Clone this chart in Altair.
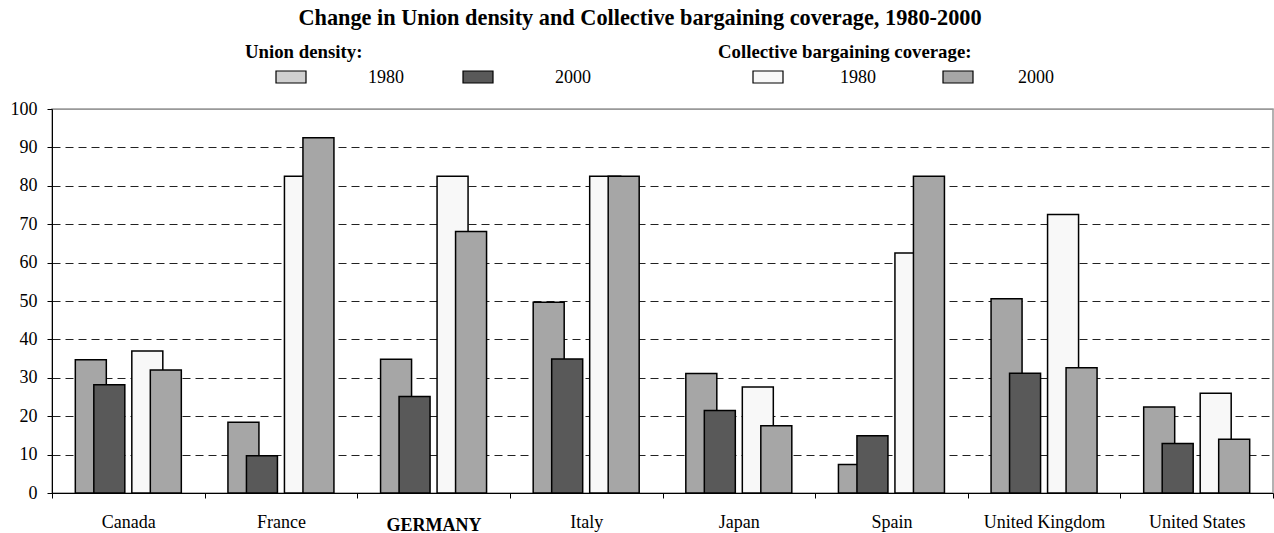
import altair as alt
import pandas as pd

# ---------------- data ----------------
countries = ["Canada", "France", "GERMANY", "Italy", "Japan", "Spain",
             "United Kingdom", "United States"]
ud_1980 = [34.7, 18.4, 34.8, 49.7, 31.1, 7.4, 50.6, 22.4]
ud_2000 = [28.2, 9.7, 25.1, 34.9, 21.5, 14.9, 31.2, 12.9]
cbc_1980 = [37.0, 82.5, 82.5, 82.5, 27.6, 62.5, 72.5, 26.0]
cbc_2000 = [32.0, 92.5, 68.1, 82.5, 17.5, 82.5, 32.6, 14.0]

series_keys = ["ud1980", "ud2000", "cbc1980", "cbc2000"]
series_values = [ud_1980, ud_2000, cbc_1980, cbc_2000]
bar_fills = ["#a6a6a6", "#595959", "#f8f8f8", "#a6a6a6"]
legend_fills = ["#d0d0d0", "#595959", "#f8f8f8", "#a6a6a6"]
legend_labels = ["1980", "2000", "1980", "2000"]
group_titles = ["Union density:", "Collective bargaining coverage:"]
title_text = "Change in Union density and Collective bargaining coverage, 1980-2000"
y_ticks = list(range(0, 101, 10))

# ---------------- layout ----------------
FONT = "Liberation Serif"
W, H = 1221, 384
PAD_L, PAD_T = 52, 109
bar_offsets = [-37.5, -19, 19, 37.5]
BAR_W = 31

rows = []
for key, vals in zip(series_keys, series_values):
    for c, v in zip(countries, vals):
        rows.append({"country": c, "series": key, "value": v})
df = pd.DataFrame(rows)

x_enc = alt.X(
    "country:N", sort=countries,
    scale=alt.Scale(domain=countries, paddingInner=0, paddingOuter=0),
    axis=alt.Axis(
        title=None, labelFont=FONT, labelFontSize=18, labelColor="black",
        labelAngle=0, domainColor="black", domainWidth=1, tickColor="black",
        tickSize=5, tickBand="extent", grid=False,
        labelPadding={"condition": {"test": "datum.value === 'GERMANY'", "value": 18},
                      "value": 15},
        labelFontWeight={"condition": {"test": "datum.value === 'GERMANY'", "value": "bold"},
                         "value": "normal"},
    ),
)
y_enc = alt.Y(
    "value:Q",
    scale=alt.Scale(domain=[0, 100], nice=False, zero=True),
    axis=alt.Axis(
        title=None, values=y_ticks, labelFont=FONT, labelFontSize=18,
        labelColor="black", domainColor="black", domainWidth=1,
        tickColor="black", tickSize=5, labelPadding=10, grid=True,
        gridColor={"condition": {"test": "datum.value === 100", "value": "#999999"},
                   "value": "#222222"},
        gridDash={"condition": {"test": "datum.value === 100", "value": []},
                  "value": [8, 5]},
        gridWidth=1,
    ),
)

layers = []
for key, fill, off in zip(series_keys, bar_fills, bar_offsets):
    layers.append(
        alt.Chart(df).transform_filter(alt.datum.series == key)
        .mark_bar(width=BAR_W, xOffset=off, fill=fill, stroke="black",
                  strokeWidth=1.5)
        .encode(x=x_enc, y=y_enc)
    )

# title
layers.append(
    alt.Chart(pd.DataFrame({"t": [title_text]})).mark_text(
        font=FONT, fontSize=22.3, fontWeight="bold", color="black",
        align="center", baseline="alphabetic"
    ).encode(text="t:N", x=alt.value(640 - PAD_L), y=alt.value(25 - PAD_T))
)

# legend group headings
heading_x = [245, 718]
for txt, hx in zip(group_titles, heading_x):
    layers.append(
        alt.Chart(pd.DataFrame({"t": [txt]})).mark_text(
            font=FONT, fontSize=18.8, fontWeight="bold", color="black",
            align="left", baseline="alphabetic"
        ).encode(text="t:N", x=alt.value(hx - PAD_L), y=alt.value(58 - PAD_T))
    )

# legend swatches and labels
swatch_x = [276, 463, 753, 943]
label_x = [368, 555, 840, 1018]
for lab, fill, sx, lx in zip(legend_labels, legend_fills, swatch_x, label_x):
    d = pd.DataFrame({"t": [lab]})
    layers.append(
        alt.Chart(d).mark_rect(fill=fill, stroke="black", strokeWidth=1.2).encode(
            x=alt.value(sx - PAD_L), x2=alt.value(sx + 30 - PAD_L),
            y=alt.value(71 - PAD_T), y2=alt.value(83 - PAD_T))
    )
    layers.append(
        alt.Chart(d).mark_text(
            font=FONT, fontSize=18, color="black", align="left",
            baseline="alphabetic"
        ).encode(text="t:N", x=alt.value(lx - PAD_L), y=alt.value(83 - PAD_T))
    )

chart = alt.layer(*layers).properties(
    width=W, height=H,
    padding={"left": PAD_L, "top": PAD_T, "right": 1, "bottom": 40},
    autosize=alt.AutoSizeParams(type="none"),
    background="white",
).configure_view(stroke="#999999", strokeWidth=1.5)

chart.save("out.html", embed_options={"renderer": "svg", "actions": False})
